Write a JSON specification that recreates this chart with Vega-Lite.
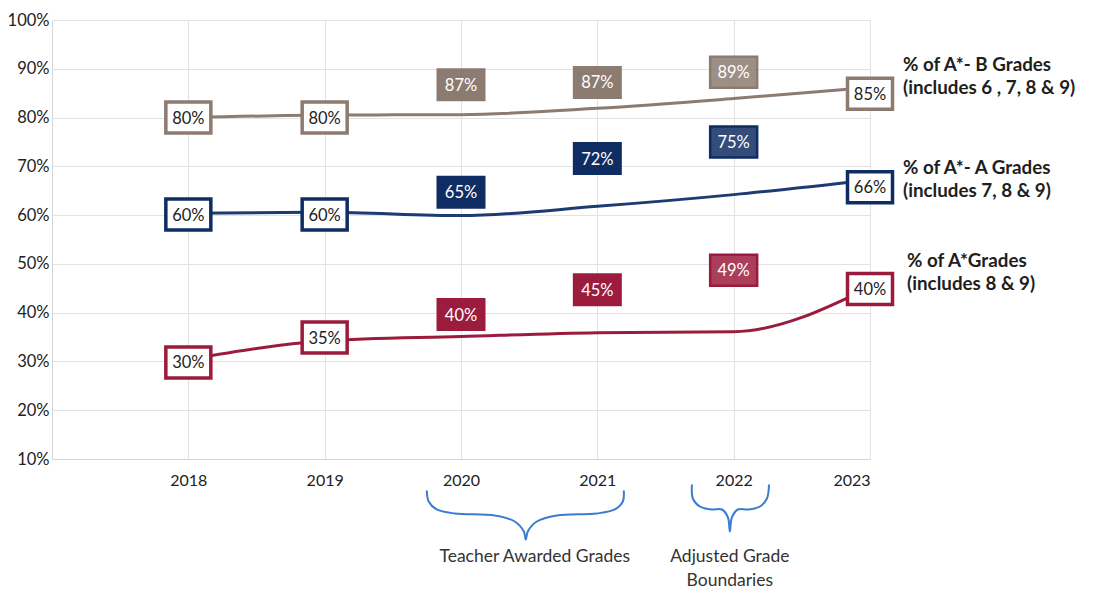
{
  "$schema": "https://vega.github.io/schema/vega-lite/v6.json",
  "width": 818,
  "height": 439,
  "autosize": {"type": "none"},
  "padding": {"left": 52, "top": 20, "right": 224, "bottom": 133},
  "background": "white",
  "config": {"view": {"stroke": null}, "font": "Lato", "text": {"font": "Lato"}},
  "datasets": {
    "lines": [
      {"series": "A*-B", "year": 2018, "value": 80.0},
      {"series": "A*-B", "year": 2019, "value": 80.5},
      {"series": "A*-B", "year": 2020, "value": 80.6},
      {"series": "A*-B", "year": 2021, "value": 81.9},
      {"series": "A*-B", "year": 2022, "value": 83.9},
      {"series": "A*-B", "year": 2023, "value": 86.2},
      {"series": "A*-A", "year": 2018, "value": 60.4},
      {"series": "A*-A", "year": 2019, "value": 60.6},
      {"series": "A*-A", "year": 2020, "value": 59.9},
      {"series": "A*-A", "year": 2021, "value": 61.8},
      {"series": "A*-A", "year": 2022, "value": 64.2},
      {"series": "A*-A", "year": 2023, "value": 67.2},
      {"series": "A*", "year": 2018, "value": 30.4},
      {"series": "A*", "year": 2019, "value": 34.2},
      {"series": "A*", "year": 2020, "value": 35.1},
      {"series": "A*", "year": 2021, "value": 35.9},
      {"series": "A*", "year": 2022, "value": 36.1},
      {"series": "A*", "year": 2023, "value": 45.2}
    ],
    "boxes": [
      {"series": "A*-B", "year": 2018, "pos": 80.0, "label": "80%"},
      {"series": "A*-B", "year": 2019, "pos": 80.0, "label": "80%"},
      {"series": "A*-B", "year": 2020, "pos": 86.7, "label": "87%"},
      {"series": "A*-B", "year": 2021, "pos": 87.2, "label": "87%"},
      {"series": "A*-B", "year": 2022, "pos": 89.3, "label": "89%"},
      {"series": "A*-B", "year": 2023, "pos": 84.9, "label": "85%"},
      {"series": "A*-A", "year": 2018, "pos": 60.1, "label": "60%"},
      {"series": "A*-A", "year": 2019, "pos": 60.1, "label": "60%"},
      {"series": "A*-A", "year": 2020, "pos": 64.7, "label": "65%"},
      {"series": "A*-A", "year": 2021, "pos": 71.6, "label": "72%"},
      {"series": "A*-A", "year": 2022, "pos": 75.0, "label": "75%"},
      {"series": "A*-A", "year": 2023, "pos": 65.7, "label": "66%"},
      {"series": "A*", "year": 2018, "pos": 29.8, "label": "30%"},
      {"series": "A*", "year": 2019, "pos": 34.9, "label": "35%"},
      {"series": "A*", "year": 2020, "pos": 39.6, "label": "40%"},
      {"series": "A*", "year": 2021, "pos": 44.7, "label": "45%"},
      {"series": "A*", "year": 2022, "pos": 48.7, "label": "49%"},
      {"series": "A*", "year": 2023, "pos": 44.85, "label": "40%"}
    ],
    "notes": [
      {"series": "A*-B", "year": 2023.242, "pos": 90.87, "text": "% of A*- B Grades\n(includes 6 , 7, 8 & 9)"},
      {"series": "A*-A", "year": 2023.242, "pos": 69.76, "text": "% of A*- A Grades\n(includes 7, 8 & 9)"},
      {"series": "A*", "year": 2023.272, "pos": 50.49, "text": "% of A*Grades\n(includes 8 & 9)"}
    ],
    "braces": [
      {"brace": "teacher", "i": 1, "year": 2019.749, "value": 3.54},
      {"brace": "teacher", "i": 2, "year": 2019.763, "value": 1.29},
      {"brace": "teacher", "i": 3, "year": 2019.822, "value": -0.35},
      {"brace": "teacher", "i": 4, "year": 2019.954, "value": -1.17},
      {"brace": "teacher", "i": 5, "year": 2020.248, "value": -1.58},
      {"brace": "teacher", "i": 6, "year": 2020.394, "value": -2.81},
      {"brace": "teacher", "i": 7, "year": 2020.461, "value": -4.86},
      {"brace": "teacher", "i": 8, "year": 2020.475, "value": -6.5},
      {"brace": "teacher", "i": 9, "year": 2020.49, "value": -4.86},
      {"brace": "teacher", "i": 10, "year": 2020.556, "value": -2.81},
      {"brace": "teacher", "i": 11, "year": 2020.703, "value": -1.58},
      {"brace": "teacher", "i": 12, "year": 2020.996, "value": -1.17},
      {"brace": "teacher", "i": 13, "year": 2021.128, "value": -0.35},
      {"brace": "teacher", "i": 14, "year": 2021.187, "value": 1.29},
      {"brace": "teacher", "i": 15, "year": 2021.194, "value": 3.54},
      {"brace": "adjusted", "i": 1, "year": 2021.694, "value": 4.77},
      {"brace": "adjusted", "i": 2, "year": 2021.701, "value": 1.9},
      {"brace": "adjusted", "i": 3, "year": 2021.752, "value": 0.26},
      {"brace": "adjusted", "i": 4, "year": 2021.84, "value": -0.35},
      {"brace": "adjusted", "i": 5, "year": 2021.914, "value": -0.35},
      {"brace": "adjusted", "i": 6, "year": 2021.958, "value": -1.99},
      {"brace": "adjusted", "i": 7, "year": 2021.972, "value": -4.86},
      {"brace": "adjusted", "i": 8, "year": 2021.987, "value": -1.99},
      {"brace": "adjusted", "i": 9, "year": 2022.031, "value": -0.35},
      {"brace": "adjusted", "i": 10, "year": 2022.105, "value": -0.35},
      {"brace": "adjusted", "i": 11, "year": 2022.193, "value": 0.26},
      {"brace": "adjusted", "i": 12, "year": 2022.244, "value": 1.9},
      {"brace": "adjusted", "i": 13, "year": 2022.259, "value": 4.77}
    ],
    "captions": [
      {"text": "Teacher Awarded Grades", "year": 2020.541, "value": -9.99},
      {"text": "Adjusted Grade\nBoundaries", "year": 2021.972, "value": -10.19}
    ]
  },
  "layer": [
    {
      "data": {"name": "lines"},
      "mark": {"type": "line", "interpolate": "monotone", "strokeWidth": 3},
      "encoding": {
        "x": {
          "field": "year", "type": "quantitative", "title": null,
          "scale": {"domain": [2017, 2023], "nice": false, "zero": false},
          "axis": {
            "values": [2018, 2019, 2020, 2021, 2022, 2023], "format": "d",
            "ticks": false, "tickSize": 0, "labelPadding": 13, "labelFontSize": 16,
            "labelColor": "#222222", "labelFont": "Lato", "domainColor": "#d4d4d4",
            "gridColor": "#e2e2e2", "grid": true, "title": null
          }
        },
        "y": {
          "field": "value", "type": "quantitative", "title": null,
          "scale": {"domain": [10, 100], "nice": false, "zero": false},
          "axis": {
            "values": [10, 20, 30, 40, 50, 60, 70, 80, 90, 100],
            "labelExpr": "datum.value + '%'", "ticks": false, "tickSize": 0,
            "labelPadding": 3, "labelFontSize": 16.5, "labelColor": "#222222",
            "labelFont": "Lato", "domainColor": "#d4d4d4", "gridColor": "#e2e2e2", "grid": true, "title": null
          }
        },
        "color": {
          "field": "series", "type": "nominal", "legend": null,
          "scale": {"domain": ["A*-B", "A*-A", "A*"], "range": ["#8b7b70", "#1d3b70", "#9a1b3c"]}
        }
      }
    },
    {
      "data": {"name": "boxes"},
      "transform": [{"filter": "datum.year <= 2019 || datum.year == 2023"}],
      "mark": {"type": "rect", "fill": "white", "strokeWidth": 3.5, "xOffset": -22.5, "x2Offset": 22.5, "yOffset": -15.5, "y2Offset": 15.5},
      "encoding": {
        "x": {"field": "year", "type": "quantitative", "title": null},
        "x2": {"field": "year"},
        "y": {"field": "pos", "type": "quantitative", "title": null},
        "y2": {"field": "pos"},
        "stroke": {
          "field": "series", "type": "nominal", "legend": null,
          "scale": {"domain": ["A*-B", "A*-A", "A*"], "range": ["#8b7b70", "#0f2d62", "#9a1b3c"]}
        }
      }
    },
    {
      "data": {"name": "boxes"},
      "transform": [{"filter": "datum.year == 2020 || datum.year == 2021"}],
      "mark": {"type": "rect", "xOffset": -24.5, "x2Offset": 24.5, "yOffset": -16.5, "y2Offset": 16.5},
      "encoding": {
        "x": {"field": "year", "type": "quantitative", "title": null},
        "x2": {"field": "year"},
        "y": {"field": "pos", "type": "quantitative", "title": null},
        "y2": {"field": "pos"},
        "fill": {
          "field": "series", "type": "nominal", "legend": null,
          "scale": {"domain": ["A*-B", "A*-A", "A*"], "range": ["#8b7b70", "#0f2d62", "#9c1c3d"]}
        }
      }
    },
    {
      "data": {"name": "boxes"},
      "transform": [{"filter": "datum.year == 2022"}],
      "mark": {"type": "rect", "fillOpacity": 0.85, "strokeWidth": 2.5, "xOffset": -23.5, "x2Offset": 23.5, "yOffset": -15.5, "y2Offset": 15.5},
      "encoding": {
        "x": {"field": "year", "type": "quantitative", "title": null},
        "x2": {"field": "year"},
        "y": {"field": "pos", "type": "quantitative", "title": null},
        "y2": {"field": "pos"},
        "fill": {
          "field": "series", "type": "nominal", "legend": null,
          "scale": {"domain": ["A*-B", "A*-A", "A*"], "range": ["#8b7b70", "#0f2d62", "#9c1c3d"]}
        },
        "stroke": {
          "field": "series", "type": "nominal", "legend": null,
          "scale": {"domain": ["A*-B", "A*-A", "A*"], "range": ["#8b7b70", "#0f2d62", "#9a1b3c"]}
        }
      }
    },
    {
      "data": {"name": "boxes"},
      "transform": [{"filter": "datum.year <= 2019 || datum.year == 2023"}],
      "mark": {"type": "text", "fontSize": 16.5, "color": "#222222", "align": "center", "baseline": "middle", "dy": 1},
      "encoding": {
        "x": {"field": "year", "type": "quantitative", "title": null},
        "y": {"field": "pos", "type": "quantitative", "title": null},
        "text": {"field": "label"}
      }
    },
    {
      "data": {"name": "boxes"},
      "transform": [{"filter": "datum.year >= 2020 && datum.year <= 2022"}],
      "mark": {"type": "text", "fontSize": 16.5, "color": "#ffffff", "align": "center", "baseline": "middle", "dy": 1},
      "encoding": {
        "x": {"field": "year", "type": "quantitative", "title": null},
        "y": {"field": "pos", "type": "quantitative", "title": null},
        "text": {"field": "label"}
      }
    },
    {
      "data": {"name": "notes"},
      "mark": {"type": "text", "fontSize": 18.8, "fontWeight": "bold", "color": "#1e1e1e", "align": "left", "baseline": "middle", "lineBreak": "\n", "lineHeight": 23},
      "encoding": {
        "x": {"field": "year", "type": "quantitative", "title": null},
        "y": {"field": "pos", "type": "quantitative", "title": null},
        "text": {"field": "text"}
      }
    },
    {
      "data": {"name": "braces"},
      "mark": {"type": "line", "interpolate": "catmull-rom", "strokeWidth": 2, "color": "#3a7ccf"},
      "encoding": {
        "x": {"field": "year", "type": "quantitative", "title": null},
        "y": {"field": "value", "type": "quantitative", "title": null},
        "detail": {"field": "brace"},
        "order": {"field": "i", "type": "quantitative"}
      }
    },
    {
      "data": {"name": "captions"},
      "mark": {"type": "text", "fontSize": 17.5, "color": "#333333", "align": "center", "baseline": "middle", "lineBreak": "\n", "lineHeight": 24},
      "encoding": {
        "x": {"field": "year", "type": "quantitative", "title": null},
        "y": {"field": "value", "type": "quantitative", "title": null},
        "text": {"field": "text"}
      }
    }
  ]
}
